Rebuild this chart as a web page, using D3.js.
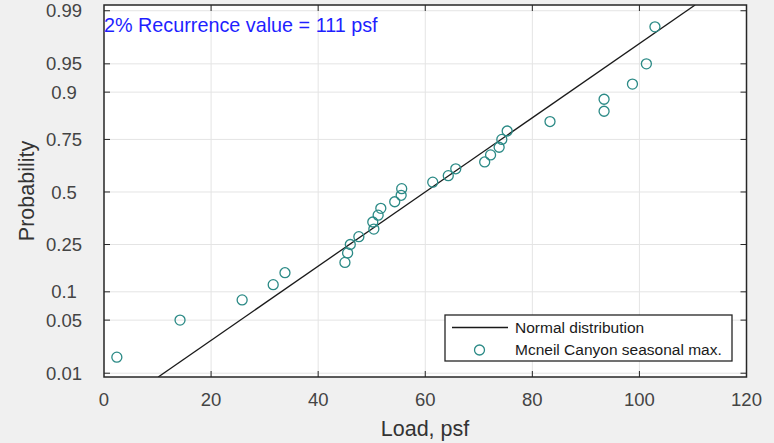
<!DOCTYPE html>
<html>
<head>
<meta charset="utf-8">
<script src="https://cdn.jsdelivr.net/npm/d3@7"></script>
<style>
  html, body { margin: 0; padding: 0; background: #f0f0f0; }
  svg { display: block; font-family: "Liberation Sans", Arial, sans-serif; }
</style>
</head>
<body>
<svg id="chart"></svg>
<script>
// seasonal max loads (psf), sorted, with their plotting probabilities
const loads = [2.4, 14.2, 25.8, 31.6, 33.8, 45.0, 45.5, 46.0, 47.6, 50.4,
    50.2, 51.2, 51.7, 54.3, 55.5, 55.6, 61.4, 64.3, 65.7, 71.1,
    72.2, 73.8, 74.3, 75.3, 83.3, 93.4, 93.4, 98.7, 101.3, 102.9];
const probs = [0.017, 0.05, 0.083, 0.117, 0.15, 0.183, 0.217, 0.25, 0.283, 0.317,
    0.35, 0.383, 0.417, 0.45, 0.483, 0.517, 0.55, 0.583, 0.617, 0.65,
    0.683, 0.717, 0.75, 0.783, 0.817, 0.85, 0.883, 0.917, 0.95, 0.983];

// fitted normal distribution
const fitMean = 60;
const fitStd = 21;

const xTicks = [0, 20, 40, 60, 80, 100, 120];
const yTicks = [0.01, 0.05, 0.1, 0.25, 0.5, 0.75, 0.9, 0.95, 0.99];
const yTickLabels = ['0.01', '0.05', '0.1', '0.25', '0.5', '0.75', '0.9', '0.95', '0.99'];

const annotation = '2% Recurrence value = 111 psf';
const legendLabels = ['Normal distribution', 'Mcneil Canyon seasonal max.'];

const fullWidth = 774;
const fullHeight = 443;
const margin = {top: 5, right: 27.5, bottom: 66, left: 104};
const width = fullWidth - margin.left - margin.right;
const height = fullHeight - margin.top - margin.bottom;

const axisColor = '#262626';
const tickColor = '#444';
const gridColor = '#e4e4e4';
const markerColor = '#2b8a86';

// inverse normal cdf (Acklam)
function probit(p) {
    const a = [-3.969683028665376e+01, 2.209460984245205e+02, -2.759285104469687e+02,
        1.383577518672690e+02, -3.066479806614716e+01, 2.506628277459239e+00];
    const b = [-5.447609879822406e+01, 1.615858368580409e+02, -1.556989798598866e+02,
        6.680131188771972e+01, -1.328068155288572e+01];
    const c = [-7.784894002430293e-03, -3.223964580411365e-01, -2.400758277161838e+00,
        -2.549671010115384e+00, 4.374664141464968e+00, 2.938163982698783e+00];
    const d = [7.784695709041462e-03, 3.224671290700398e-01, 2.445134137142996e+00,
        3.754408661907416e+00];
    const pl = 0.02425;
    let q, r;
    if (p < pl) {
        q = Math.sqrt(-2 * Math.log(p));
        return (((((c[0]*q+c[1])*q+c[2])*q+c[3])*q+c[4])*q+c[5]) /
            ((((d[0]*q+d[1])*q+d[2])*q+d[3])*q+1);
    }
    if (p > 1 - pl) {
        q = Math.sqrt(-2 * Math.log(1 - p));
        return -(((((c[0]*q+c[1])*q+c[2])*q+c[3])*q+c[4])*q+c[5]) /
            ((((d[0]*q+d[1])*q+d[2])*q+d[3])*q+1);
    }
    q = p - 0.5;
    r = q * q;
    return (((((a[0]*r+a[1])*r+a[2])*r+a[3])*r+a[4])*r+a[5])*q /
        (((((b[0]*r+b[1])*r+b[2])*r+b[3])*r+b[4])*r+1);
}

const x = d3.scaleLinear().domain([0, 120]).range([0, width]);
const zDomain = [-2.375, 2.4];
const z = d3.scaleLinear().domain(zDomain).range([height, 0]);
const y = p => z(probit(p));

const svg = d3.select('#chart')
    .attr('width', fullWidth)
    .attr('height', fullHeight);

svg.append('rect')
    .attr('width', fullWidth)
    .attr('height', fullHeight)
    .attr('fill', '#f0f0f0');

svg.append('defs').append('clipPath')
    .attr('id', 'plot-clip')
    .append('rect')
    .attr('width', width)
    .attr('height', height);

const g = svg.append('g')
    .attr('transform', `translate(${margin.left}, ${margin.top})`);

g.append('rect')
    .attr('width', width)
    .attr('height', height)
    .attr('fill', '#fff');

// grid
g.append('g').selectAll('line').data(xTicks.slice(1, -1))
    .enter().append('line')
        .attr('x1', d => x(d)).attr('x2', d => x(d))
        .attr('y1', 0).attr('y2', height)
        .attr('stroke', gridColor);

g.append('g').selectAll('line').data(yTicks)
    .enter().append('line')
        .attr('x1', 0).attr('x2', width)
        .attr('y1', d => y(d)).attr('y2', d => y(d))
        .attr('stroke', gridColor);

// fitted line
const line = d3.line()
    .x(d => x(fitMean + fitStd * d))
    .y(d => z(d));

g.append('path')
    .datum(zDomain)
    .attr('d', line)
    .attr('clip-path', 'url(#plot-clip)')
    .attr('fill', 'none')
    .attr('stroke', '#1a1a1a')
    .attr('stroke-width', 1.3);

// data points
g.append('g').selectAll('circle').data(loads)
    .enter().append('circle')
        .attr('cx', d => x(d))
        .attr('cy', (d, i) => y(probs[i]))
        .attr('r', 5)
        .attr('fill', 'none')
        .attr('stroke', markerColor)
        .attr('stroke-width', 1.3);

// axes: inward ticks on all four sides
const tickLen = 6;
const ticks = g.append('g').attr('stroke', axisColor).attr('stroke-width', 1);
xTicks.slice(1, -1).forEach(d => {
    ticks.append('line').attr('x1', x(d)).attr('x2', x(d)).attr('y1', height).attr('y2', height - tickLen);
    ticks.append('line').attr('x1', x(d)).attr('x2', x(d)).attr('y1', 0).attr('y2', tickLen);
});
yTicks.forEach(d => {
    ticks.append('line').attr('x1', 0).attr('x2', tickLen).attr('y1', y(d)).attr('y2', y(d));
    ticks.append('line').attr('x1', width).attr('x2', width - tickLen).attr('y1', y(d)).attr('y2', y(d));
});

g.append('rect')
    .attr('width', width)
    .attr('height', height)
    .attr('fill', 'none')
    .attr('stroke', axisColor)
    .attr('stroke-width', 1.5);

// tick labels
g.append('g').selectAll('text').data(xTicks)
    .enter().append('text')
        .attr('x', d => x(d))
        .attr('y', height + 29)
        .attr('text-anchor', 'middle')
        .attr('font-size', 18.5)
        .attr('fill', tickColor)
        .text(d => d);

g.append('g').selectAll('text').data(yTicks)
    .enter().append('text')
        .attr('x', 64 - margin.left)
        .attr('y', d => y(d))
        .attr('dy', '0.36em')
        .attr('text-anchor', 'middle')
        .attr('font-size', 18.5)
        .attr('fill', tickColor)
        .text((d, i) => yTickLabels[i]);

// axis labels
svg.append('text')
    .attr('x', 425)
    .attr('y', 436)
    .attr('text-anchor', 'middle')
    .attr('font-size', 21.5)
    .attr('fill', '#333')
    .text('Load, psf');

svg.append('text')
    .attr('transform', 'translate(34, 191) rotate(-90)')
    .attr('text-anchor', 'middle')
    .attr('font-size', 21.5)
    .attr('fill', '#333')
    .text('Probability');

// annotation
g.append('text')
    .attr('x', 0)
    .attr('y', 27)
    .attr('font-size', 19.8)
    .attr('fill', '#1f1fff')
    .text(annotation);

// legend
const legend = svg.append('g').attr('transform', 'translate(445, 315)');
legend.append('rect')
    .attr('width', 287)
    .attr('height', 46)
    .attr('fill', '#fff')
    .attr('stroke', axisColor)
    .attr('stroke-width', 1.3);
legend.append('line')
    .attr('x1', 7).attr('x2', 63)
    .attr('y1', 12.5).attr('y2', 12.5)
    .attr('stroke', '#1a1a1a')
    .attr('stroke-width', 1.3);
legend.append('circle')
    .attr('cx', 34.5).attr('cy', 35)
    .attr('r', 5)
    .attr('fill', 'none')
    .attr('stroke', markerColor)
    .attr('stroke-width', 1.3);
legend.selectAll('text.label').data(legendLabels)
    .enter().append('text')
        .attr('class', 'label')
        .attr('x', 70)
        .attr('y', (d, i) => 12.5 + i * 22)
        .attr('dy', '0.36em')
        .attr('font-size', 15.5)
        .attr('fill', '#1a1a1a')
        .text(d => d);
</script>
</body>
</html>
